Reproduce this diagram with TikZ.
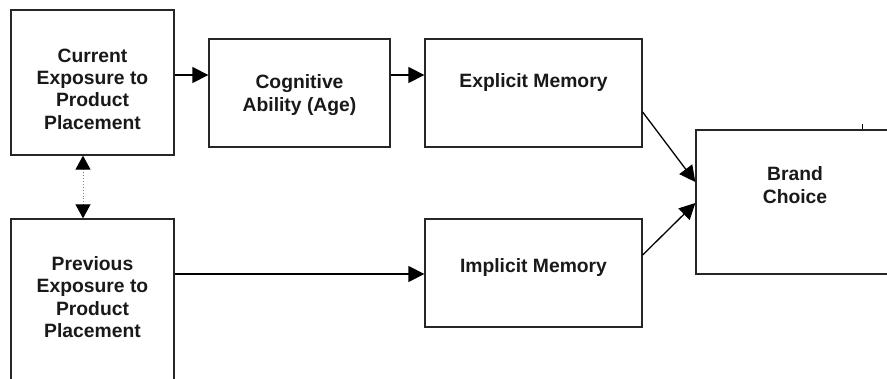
\documentclass[tikz,border=0pt]{standalone}
\usepackage{fontspec}
\setmainfont{Liberation Sans}
\usetikzlibrary{arrows.meta,calc}
\begin{document}
\begin{tikzpicture}[x=1pt,y=-1pt,
 box/.style={draw=black!85, line width=1.3pt, rectangle, inner sep=0pt},
 lbl/.style={font=\fontsize{19.3}{22.3}\selectfont\bfseries, align=center, inner sep=0pt, text=black!90},
 arr/.style={line width=1.3pt, -{Triangle[length=16pt,width=16pt]}},
 darr/.style={draw=gray, dotted, line width=0.9pt, {Triangle[length=14pt,width=15pt,color=black]}-{Triangle[length=14pt,width=15pt,color=black]}},
]
\useasboundingbox (0,0) rectangle (887,379);
\clip (0,0) rectangle (887,379);
\node[box, minimum width=163pt, minimum height=145pt] (cur) at (92.5,82.5) {};
\node[box, minimum width=181pt, minimum height=108pt] (cog) at (299.5,93) {};
\node[box, minimum width=217pt, minimum height=108pt] (expl) at (533.5,93) {};
\node[box, minimum width=217pt, minimum height=108pt] (impl) at (533.5,273) {};
\node[box, minimum width=163pt, minimum height=181pt] (prev) at (92.5,309.5) {};
\node[box, minimum width=198pt, minimum height=144pt] (brand) at (795,202) {};

\node[lbl] (curT) at (92.5,89) {Current\\Exposure to\\Product\\Placement};
\node[lbl] (cogT) at (299.5,95) {Cognitive\\Ability (Age)};
\node[lbl] (explT) at (533.5,83) {Explicit Memory};
\node[lbl] (implT) at (533.5,268) {Implicit Memory};
\node[lbl] (prevT) at (92.5,297) {Previous\\Exposure to\\Product\\Placement};
\node[lbl] (brandT) at (795,185) {Brand\\Choice};

\draw[arr] (cur.east |- 0,75) -- (cog.west |- 0,75);
\draw[arr] (cog.east |- 0,75) -- (expl.west |- 0,75);
\draw[darr] (cur.south -| 83,0) -- (prev.north -| 83,0);
\draw[arr] (prev.east |- 0,274) -- (impl.west |- 0,274);
\draw[arr] ($(expl.east)+(0,19)$) -- ($(brand.west)+(0,-20)$);
\draw[arr] ($(impl.east)+(0,-18)$) -- ($(brand.west)+(0,1)$);
\draw[line width=0.8pt] (brand.north -| 862,0) -- ++(0,-5);
\end{tikzpicture}
\end{document}
